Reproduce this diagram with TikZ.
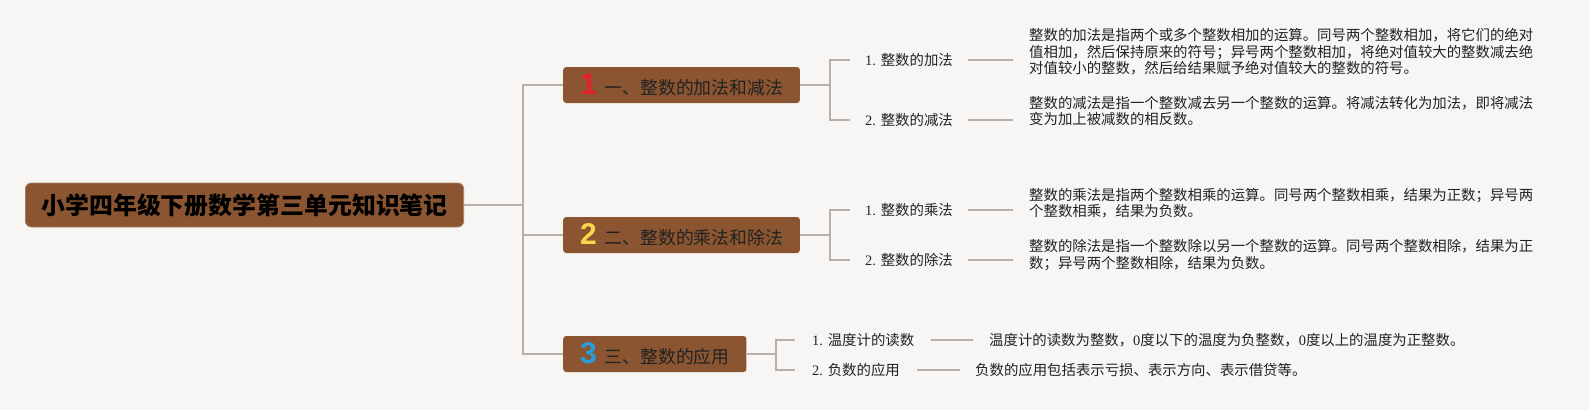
\documentclass[tikz,border=0pt]{standalone}
\usepackage{fontspec}
\setmainfont{Liberation Serif}
\newfontfamily\cjk{Noto Sans CJK SC}
\newfontfamily\numfont{Liberation Sans}
\usetikzlibrary{arrows}
\usetikzlibrary{shapes}

\definecolor{paper}{HTML}{F8F6F4}
\definecolor{bark}{HTML}{8A5530}
\definecolor{twig}{HTML}{B8B0A8}
\definecolor{ink}{HTML}{222222}
\definecolor{numred}{HTML}{E3202B}
\definecolor{numyellow}{HTML}{F6D74B}
\definecolor{numblue}{HTML}{2B9BDB}

\newcommand{\badge}[2]{{\numfont\bfseries\fontsize{30}{30}\selectfont\color{#1}#2}\hspace{8pt}}

\begin{document}
\begin{tikzpicture}[x = 1pt, y = -1pt]
	\tikzstyle{rootStyle} = [anchor = west, fill = bark, draw = bark!75!white, line width = 0.8pt, rounded corners = 6pt, minimum height = 44pt, inner xsep = 16pt, text = black, font = {\cjk\bfseries\fontsize{23.9}{26}\selectfont}]
	\tikzstyle{branchStyle} = [anchor = west, fill = bark, rounded corners = 3pt, minimum height = 36pt, inner xsep = 17pt, text = ink, font = {\cjk\fontsize{17.8}{20}\selectfont}]
	\tikzstyle{itemStyle} = [anchor = west, inner xsep = 15pt, inner ysep = 2pt, text = ink, font = {\fontsize{14.4}{16.5}\selectfont}]
	\tikzstyle{noteStyle} = [anchor = west, inner xsep = 16pt, inner ysep = 2pt, align = left, text = ink, font = {\cjk\fontsize{14.4}{16.5}\selectfont}]
	\tikzstyle{lineStyle} = [draw = twig, line width = 1.6pt]
	\fill[paper] (0, 0) rectangle (1589, 410);
	\useasboundingbox (0, 0) rectangle (1589, 410);
	\node[rootStyle] (r) at (25, 205) {小学四年级下册数学第三单元知识笔记};
	\node[branchStyle] (b1) at (563, 85) {\badge{numred}{1}一、整数的加法和减法};
	\node[branchStyle] (b2) at (563, 235) {\badge{numyellow}{2}二、整数的乘法和除法};
	\node[branchStyle] (b3) at (563, 354) {\badge{numblue}{3}三、整数的应用};
	\coordinate (t) at (523, 205);
	\coordinate (k1) at (830, 85);
	\coordinate (k2) at (830, 235);
	\coordinate (k3) at (776, 354);
	\node[itemStyle] (s11) at (850, 60) {1. {\cjk 整数的加法}};
	\node[itemStyle] (s12) at (850, 120) {2. {\cjk 整数的减法}};
	\node[itemStyle] (s21) at (850, 210) {1. {\cjk 整数的乘法}};
	\node[itemStyle] (s22) at (850, 260) {2. {\cjk 整数的除法}};
	\node[itemStyle, inner xsep = 17pt] (s31) at (795, 340) {1. {\cjk 温度计的读数}};
	\node[itemStyle, inner xsep = 17pt] (s32) at (795, 370) {2. {\cjk 负数的应用}};
	\node[noteStyle] (d11) at (1013, 52) {整数的加法是指两个或多个整数相加的运算。同号两个整数相加，将它们的绝对\\值相加，然后保持原来的符号；异号两个整数相加，将绝对值较大的整数减去绝\\对值较小的整数，然后给结果赋予绝对值较大的整数的符号。};
	\node[noteStyle] (d12) at (1013, 111) {整数的减法是指一个整数减去另一个整数的运算。将减法转化为加法，即将减法\\变为加上被减数的相反数。};
	\node[noteStyle] (d21) at (1013, 203) {整数的乘法是指两个整数相乘的运算。同号两个整数相乘，结果为正数；异号两\\个整数相乘，结果为负数。};
	\node[noteStyle] (d22) at (1013, 255) {整数的除法是指一个整数除以另一个整数的运算。同号两个整数相除，结果为正\\数；异号两个整数相除，结果为负数。};
	\node[noteStyle] (d31) at (973, 340) {温度计的读数为整数，{\rmfamily 0}度以下的温度为负整数，{\rmfamily 0}度以上的温度为正整数。};
	\node[noteStyle, inner xsep = 15pt] (d32) at (960, 370) {负数的应用包括表示亏损、表示方向、表示借贷等。};
	\draw[lineStyle] (r.east) -- (t);
	\draw[lineStyle] (b1.west) -| (t) |- (b3.west);
	\draw[lineStyle] (t |- b2.west) -- (b2.west);
	\draw[lineStyle] (b1.east) -- (k1);
	\draw[lineStyle] (s11.west) -| (k1) |- (s12.west);
	\draw[lineStyle] (b2.east) -- (k2);
	\draw[lineStyle] (s21.west) -| (k2) |- (s22.west);
	\draw[lineStyle] (b3.east) -- (k3);
	\draw[lineStyle] (s31.west) -| (k3) |- (s32.west);
	\draw[lineStyle] (s11.east) -- (s11.east -| d11.west);
	\draw[lineStyle] (s12.east) -- (s12.east -| d12.west);
	\draw[lineStyle] (s21.east) -- (s21.east -| d21.west);
	\draw[lineStyle] (s22.east) -- (s22.east -| d22.west);
	\draw[lineStyle] (s31.east) -- (s31.east -| d31.west);
	\draw[lineStyle] (s32.east) -- (s32.east -| d32.west);
\end{tikzpicture}
\end{document}
